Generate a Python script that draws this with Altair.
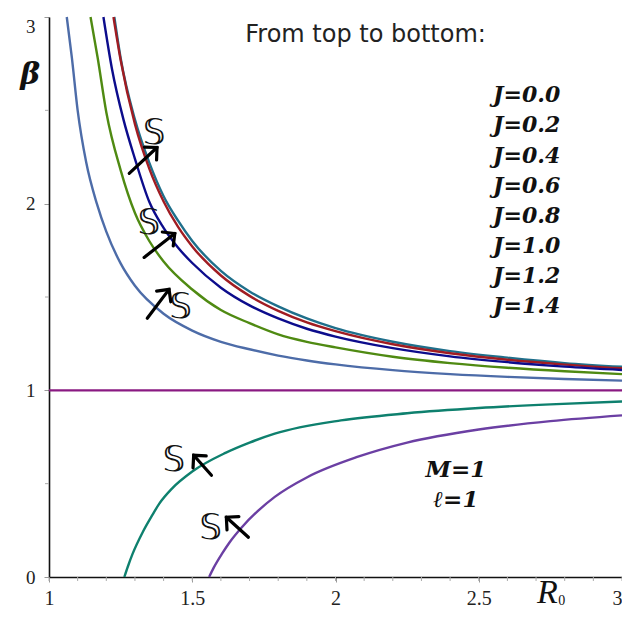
import altair as alt
import pandas as pd

# ---------------- data ----------------
J_LABELS = ["J=0.0", "J=0.2", "J=0.4", "J=0.6", "J=0.8", "J=1.0", "J=1.2", "J=1.4"]
COLORS = ["#1f6f8b", "#a01c22", "#0c0c8c", "#4f8a12", "#4d6ca8", "#8a1a82", "#0e806e", "#6b3fa3"]

R0_J00 = [1.228, 1.25, 1.3, 1.35, 1.4, 1.45, 1.5, 1.6, 1.7, 1.8, 1.9, 2.0, 2.2, 2.4, 2.6, 2.8, 3.0]
B_J00 = [3.0, 2.78, 2.45, 2.22, 2.04, 1.91, 1.80, 1.64, 1.53, 1.45, 1.385, 1.333, 1.26, 1.21, 1.175, 1.146, 1.126]

R0_J02 = [1.225, 1.25, 1.3, 1.35, 1.4, 1.45, 1.5, 1.6, 1.7, 1.8, 1.9, 2.0, 2.2, 2.4, 2.6, 2.8, 3.0]
B_J02 = [3.0, 2.77, 2.426, 2.188, 2.012, 1.877, 1.771, 1.615, 1.506, 1.426, 1.364, 1.317, 1.247, 1.199, 1.164, 1.138, 1.118]

R0_J04 = [1.19, 1.22, 1.26, 1.3, 1.35, 1.4, 1.45, 1.5, 1.6, 1.7, 1.8, 1.9, 2.0, 2.2, 2.4, 2.6, 2.8, 3.0]
B_J04 = [3.0, 2.72, 2.45, 2.24, 2.01, 1.87, 1.765, 1.682, 1.55, 1.455, 1.385, 1.33, 1.288, 1.226, 1.182, 1.151, 1.127, 1.109]

R0_J06 = [1.145, 1.17, 1.2, 1.25, 1.3, 1.35, 1.4, 1.5, 1.6, 1.7, 1.8, 1.9, 2.0, 2.2, 2.4, 2.6, 2.8, 3.0]
B_J06 = [3.0, 2.78, 2.49, 2.18, 1.95, 1.80, 1.69, 1.54, 1.43, 1.36, 1.30, 1.26, 1.23, 1.18, 1.146, 1.121, 1.102, 1.087]

R0_J08 = [1.062, 1.08, 1.1, 1.13, 1.167, 1.2, 1.25, 1.3, 1.4, 1.5, 1.6, 1.7, 1.8, 1.9, 2.0, 2.2, 2.4, 2.6, 2.8, 3.0]
B_J08 = [3.0, 2.78, 2.5, 2.22, 2.0, 1.85, 1.68, 1.56, 1.41, 1.32, 1.26, 1.22, 1.186, 1.16, 1.139, 1.108, 1.087, 1.072, 1.061, 1.052]

R0_J10 = [1.0, 3.0]
B_J10 = [1.0, 1.0]

R0_J12 = [1.263, 1.275, 1.292, 1.327, 1.36, 1.385, 1.43, 1.5, 1.616, 1.7, 1.788, 2.019, 2.25, 2.5, 2.75, 3.0]
B_J12 = [0.0, 0.055, 0.125, 0.24, 0.33, 0.393, 0.475, 0.565, 0.665, 0.72, 0.768, 0.839, 0.877, 0.905, 0.925, 0.94]

R0_J14 = [1.559, 1.575, 1.604, 1.63, 1.674, 1.788, 1.903, 2.076, 2.25, 2.5, 2.75, 3.0]
B_J14 = [0.0, 0.05, 0.125, 0.185, 0.268, 0.429, 0.536, 0.643, 0.72, 0.79, 0.835, 0.866]

X_MAJOR = [1, 1.5, 2, 2.5, 3]
X_MINOR = [round(1 + 0.1 * i, 1) for i in range(21)]
Y_MAJOR = [0, 1, 2, 3]
Y_MINOR = [0.5, 1.5, 2.5]

# annotation placement (data units)
S_X = [1.367, 1.349, 1.460, 1.436, 1.564]
S_Y = [2.381, 1.899, 1.444, 0.625, 0.261]
ARROW_X = [1.280, 1.332, 1.343, 1.567, 1.696]
ARROW_Y = [2.162, 1.712, 1.386, 0.545, 0.213]
ARROW_X2 = [1.377, 1.439, 1.419, 1.505, 1.619]
ARROW_Y2 = [2.301, 1.840, 1.541, 0.652, 0.320]
ARROW_ANGLE = [47, 52, 37, 318, 312]

# ---------------- build tables ----------------
xs = [R0_J00, R0_J02, R0_J04, R0_J06, R0_J08, R0_J10, R0_J12, R0_J14]
bs = [B_J00, B_J02, B_J04, B_J06, B_J08, B_J10, B_J12, B_J14]
rows = []
for lab, xv, bv in zip(J_LABELS, xs, bs):
    for a, b in zip(xv, bv):
        rows.append({"J": lab, "R0": a, "beta": b})
curves = pd.DataFrame(rows)

xscale = alt.Scale(domain=[1, 3], nice=False, zero=False)
yscale = alt.Scale(domain=[0, 3], nice=False, zero=False)

xaxis = alt.Axis(
    values=X_MAJOR, title=None, grid=False, format="~g",
    labelAlign=alt.condition("datum.value == 3", alt.value("right"), alt.value("center")),
    labelFont="Liberation Serif", labelFontSize=20, labelColor="#222",
    labelPadding=6, labelOverlap=False, labelFlush=False, labelBound=False,
    tickSize=5, tickColor="#999", domainColor="#111", domainWidth=1.6,
)
yaxis = alt.Axis(
    values=Y_MAJOR, title=None, grid=False, format="d",
    labelBaseline=alt.condition("datum.value == 3", alt.value("top"), alt.value("middle")),
    labelFont="Liberation Serif", labelFontSize=19, labelColor="#222",
    labelPadding=9, labelOverlap=False, labelFlush=False,
    tickSize=5, tickColor="#999", domainColor="#111", domainWidth=1.6,
)


def X(f):
    return alt.X(f, scale=xscale, axis=xaxis, title=None)


def Y(f):
    return alt.Y(f, scale=yscale, axis=yaxis, title=None)


lines = alt.Chart(curves).mark_line(strokeWidth=2.4, interpolate="monotone").encode(
    x=X("R0:Q"),
    y=Y("beta:Q"),
    color=alt.Color("J:N", scale=alt.Scale(domain=J_LABELS, range=COLORS), legend=None),
    detail="J:N",
    order="R0:Q",
)

# minor ticks (tick length is a style in pixels)
xminor = alt.Chart(pd.DataFrame({"v": X_MINOR})).mark_rule(color="#aaa", strokeWidth=1).encode(
    x=X("v:Q"), y=alt.value(560), y2=alt.value(564)
)
yminor = alt.Chart(pd.DataFrame({"v": Y_MINOR})).mark_rule(color="#aaa", strokeWidth=1).encode(
    y=Y("v:Q"), x=alt.value(-4), x2=alt.value(0)
)

# J labels list
jdf = pd.DataFrame({"label": J_LABELS, "i": list(range(len(J_LABELS)))})
jtext = alt.Chart(jdf).transform_calculate(
    x="2.55", y="2.58 - datum.i * 0.1612"
).mark_text(
    font="DejaVu Serif", fontStyle="italic", fontWeight="bold", fontSize=22,
    align="left", baseline="middle", color="#111"
).encode(x=X("x:Q"), y=Y("y:Q"), text="label:N")

labels = pd.DataFrame({
    "text": ["From top to bottom:", "M=1", "ℓ=1"],
    "x": [2.105, 2.42, 2.42],
    "y": [2.901, 0.571, 0.411],
    "kind": ["title", "param", "param"],
})
title_t = alt.Chart(labels[labels.kind == "title"]).mark_text(
    font="DejaVu Sans", fontSize=24, color="#222", align="center", baseline="middle"
).encode(x=X("x:Q"), y=Y("y:Q"), text="text:N")
param_t = alt.Chart(labels[labels.kind == "param"]).mark_text(
    font="DejaVu Serif", fontStyle="italic", fontWeight="bold", fontSize=23,
    color="#111", align="center", baseline="middle"
).encode(x=X("x:Q"), y=Y("y:Q"), text="text:N")

axlab = pd.DataFrame({
    "text": ["β", "R", "0"],
    "x": [0.934, 2.74, 2.79],
    "y": [2.687, -0.085, -0.13],
})
beta_t = alt.Chart(axlab.iloc[[0]]).mark_text(
    font="DejaVu Serif", fontStyle="italic", fontWeight="bold", fontSize=30,
    color="#111", align="center", baseline="middle"
).encode(x=X("x:Q"), y=Y("y:Q"), text="text:N")
r_t = alt.Chart(axlab.iloc[[1]]).mark_text(
    font="Liberation Serif", fontStyle="italic", fontSize=34,
    color="#111", align="center", baseline="middle"
).encode(x=X("x:Q"), y=Y("y:Q"), text="text:N")
sub_t = alt.Chart(axlab.iloc[[2]]).mark_text(
    font="Liberation Serif", fontSize=14,
    color="#111", align="center", baseline="middle"
).encode(x=X("x:Q"), y=Y("y:Q"), text="text:N")

sdf = pd.DataFrame({"x": S_X, "y": S_Y, "t": ["𝕊"] * len(S_X)})
s_t = alt.Chart(sdf).mark_text(
    font="DejaVu Sans", fontSize=36, color="#111", align="center", baseline="middle"
).encode(x=X("x:Q"), y=Y("y:Q"), text="t:N")

adf = pd.DataFrame({"x": ARROW_X, "y": ARROW_Y, "x2": ARROW_X2, "y2": ARROW_Y2, "a": ARROW_ANGLE})
shafts = alt.Chart(adf).mark_rule(strokeWidth=3.2, color="#000", strokeCap="round").encode(
    x=X("x:Q"), y=Y("y:Q"), x2="x2:Q", y2="y2:Q"
)
heads = alt.Chart(adf).mark_point(
    shape="M-0.75,0.75L0,0L0.75,0.75", filled=False, size=560, strokeWidth=3.2,
    color="#000", opacity=1, strokeCap="round", strokeJoin="miter"
).encode(
    x=X("x2:Q"), y=Y("y2:Q"), angle=alt.Angle("a:Q", scale=None)
)

chart = alt.layer(
    lines, xminor, yminor, jtext, title_t, param_t, beta_t, r_t, sub_t, s_t, shafts, heads
).properties(
    width=573, height=560,
    padding={"left": 41, "top": 9, "right": 0, "bottom": 35},
    autosize=alt.AutoSizeParams(type="none"),
    background="white",
).configure_view(stroke=None)

chart.save("out.html", embed_options={"renderer": "svg", "actions": False})
